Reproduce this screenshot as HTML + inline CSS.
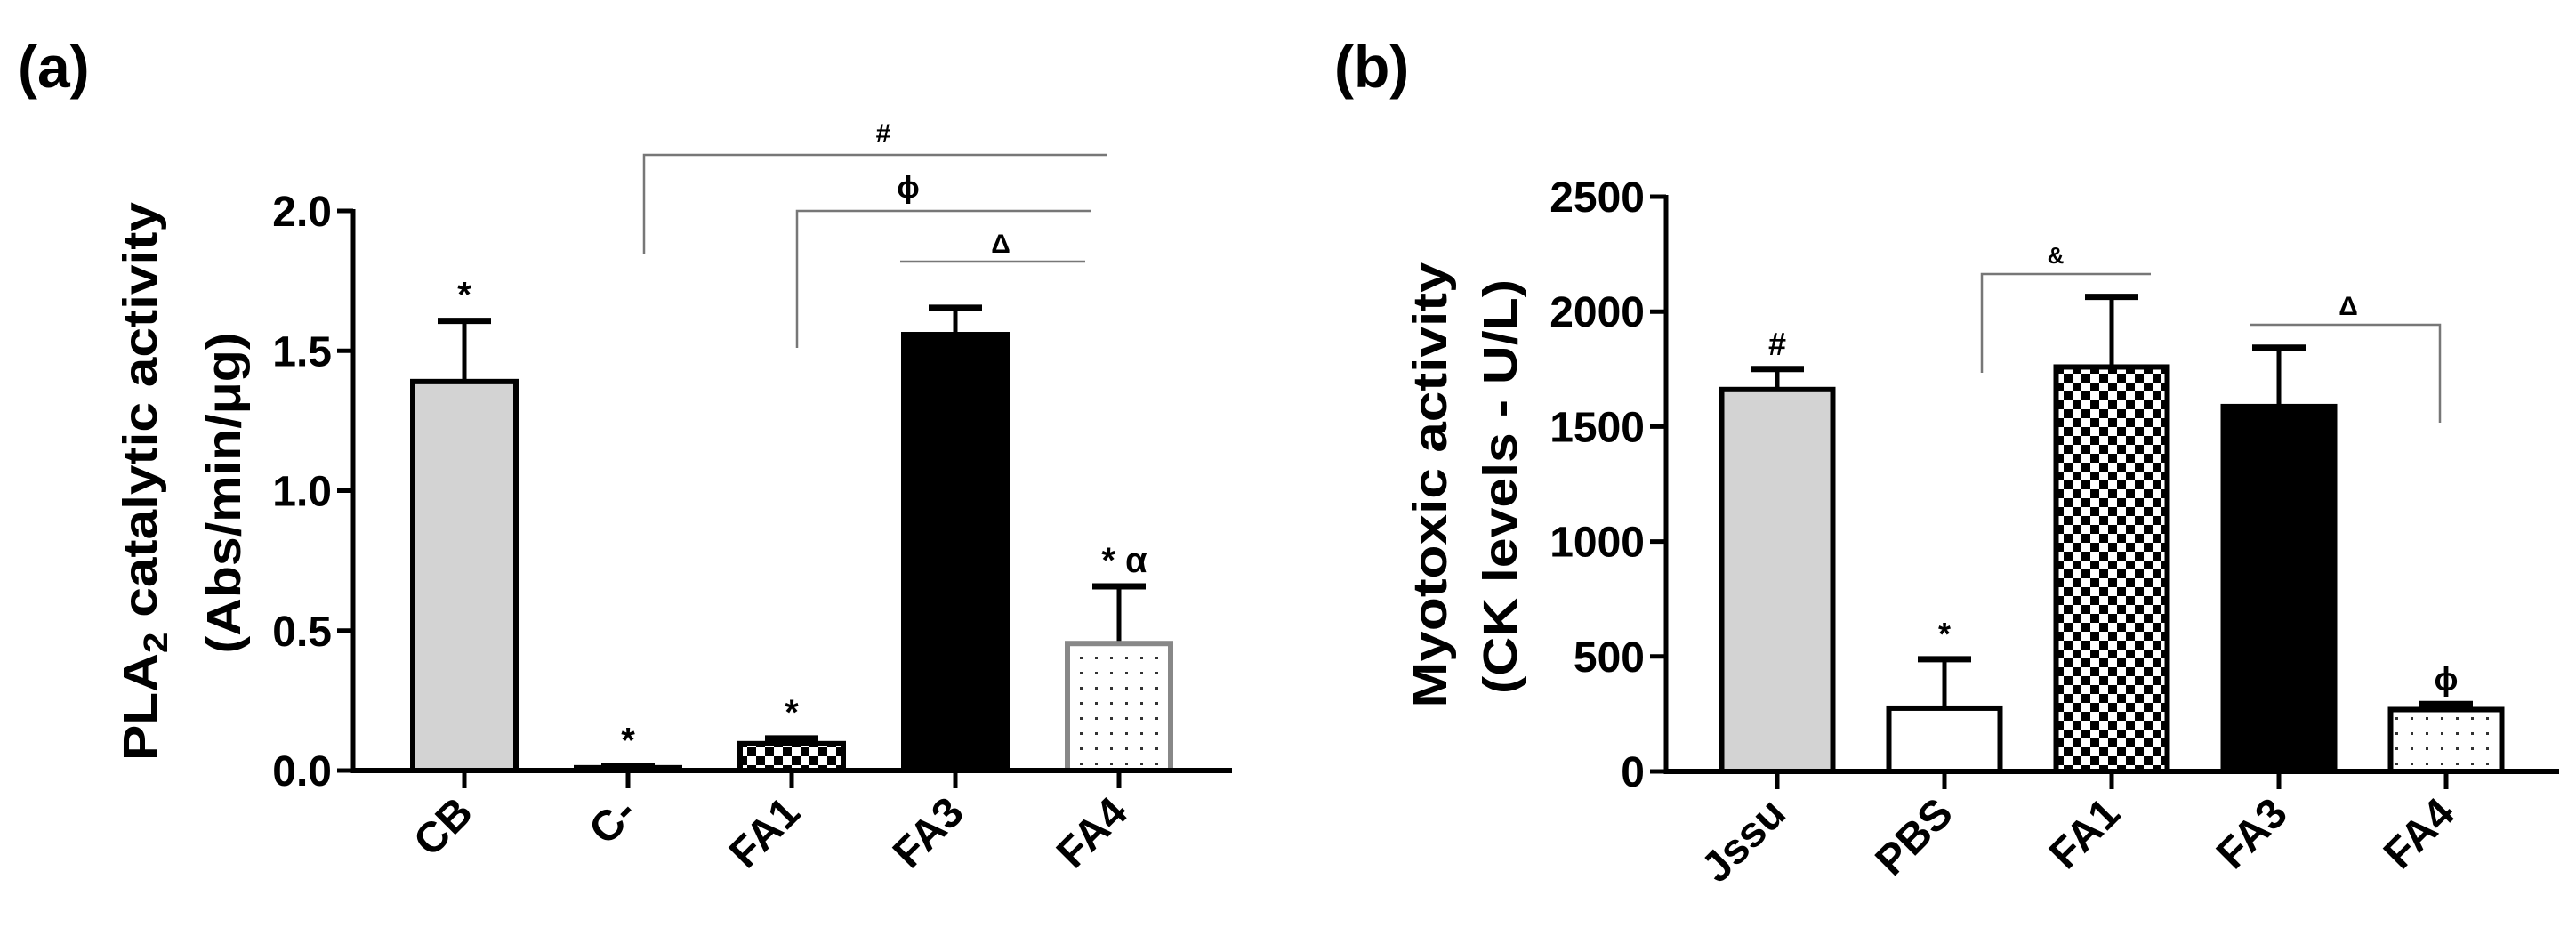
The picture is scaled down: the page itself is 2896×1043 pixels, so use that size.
<!DOCTYPE html>
<html><head><meta charset="utf-8"><style>
html,body{margin:0;padding:0;background:#fff;}
svg{display:block;font-family:"Liberation Sans",sans-serif;}
</style></head><body>
<svg id="fig" width="2896" height="1043" viewBox="0 0 2896 1043" xmlns="http://www.w3.org/2000/svg">
<defs>
<pattern id="checker" width="20" height="20" patternUnits="userSpaceOnUse">
<rect width="20" height="20" fill="#fff"/><rect width="10" height="10" fill="#000"/><rect x="10" y="10" width="10" height="10" fill="#000"/>
</pattern>
<pattern id="dots" width="17" height="17" patternUnits="userSpaceOnUse">
<rect width="17" height="17" fill="#fff"/><rect x="7" y="7" width="3" height="3" fill="#333"/>
</pattern>
</defs>
<text x="20" y="98" font-size="66" font-weight="bold">(a)</text>
<text x="1500" y="98" font-size="66" font-weight="bold">(b)</text>
<g id="pa"></g>
<g id="pb"></g>
</svg>
<script>
const catsA = ["CB","C-","FA1","FA3","FA4"];
const valsA = [1.39, 0.01, 0.096, 1.558, 0.454];
const errA = [1.607, 0.015, 0.115, 1.654, 0.658];
const ticksA = [0, 0.5, 1.0, 1.5, 2.0];
const tickLabelsA = ["0.0","0.5","1.0","1.5","2.0"];
const marksA = ["*","*","*","","* α"];
const catsB = ["Jssu","PBS","FA1","FA3","FA4"];
const valsB = [1661, 275, 1759, 1587, 269];
const errB = [1750, 488, 2064, 1843, 293];
const ticksB = [0, 500, 1000, 1500, 2000, 2500];
const tickLabelsB = ["0","500","1000","1500","2000","2500"];
const marksB = ["#","*","","","ϕ"];

const NS="http://www.w3.org/2000/svg";
function mk(parent,tag,attrs,txt){const e=document.createElementNS(NS,tag);for(const k in attrs)e.setAttribute(k,attrs[k]);if(txt!==undefined)e.textContent=txt;parent.appendChild(e);return e;}

function drawPanel(g,o){
  const y=v=>o.y0-(v/o.ymax)*(o.y0-o.y1);
  const x=i=>o.x0+i*o.step;
  // bars
  o.cats.forEach((c,i)=>{
    const top=y(o.vals[i]);
    const eb=mk(g,'line',{x1:x(i),x2:x(i),y1:top,y2:y(o.errs[i]),stroke:'#000','stroke-width':5});
    
    
    const cap=mk(g,'line',{x1:x(i)-30,x2:x(i)+30,y1:y(o.errs[i]),y2:y(o.errs[i]),stroke:'#000','stroke-width':7});
    
    
    const r=mk(g,'rect',{x:x(i)-o.bw/2,y:top,width:o.bw,height:Math.max(o.y0-top,1),fill:o.fills[i],stroke:o.strokes[i],'stroke-width':6});
    
    
    if(o.marks[i]){
      const t=mk(g,'text',{x:x(i)+(o.marks[i].length>1?6:0),y:y(o.errs[i])-16,'font-size':o.markSize,'font-weight':'bold','text-anchor':'middle'},o.marks[i]);
      
      
    }
    const tk=mk(g,'line',{x1:x(i),x2:x(i),y1:o.y0,y2:o.y0+20,stroke:'#000','stroke-width':5});
    
    
    const lx=x(i)+12, ly=o.y0+50;
    const lt=mk(g,'text',{x:lx,y:ly,'font-size':48,'font-weight':'bold','text-anchor':'end',transform:`rotate(-45 ${lx} ${ly})`},c);
    
    
  });
  // axes
  const ya=mk(g,'line',{x1:o.ax,x2:o.ax,y1:o.y1-2,y2:o.y0+3,stroke:'#000','stroke-width':5});
  
  
  const xa=mk(g,'line',{x1:o.ax,x2:o.xend,y1:o.y0,y2:o.y0,stroke:'#000','stroke-width':6});
  
  
  o.ticks.forEach((t,i)=>{
    const l=mk(g,'line',{x1:o.ax-18,x2:o.ax,y1:y(t),y2:y(t),stroke:'#000','stroke-width':5});
    
    
    const tx=mk(g,'text',{x:o.ax-24,y:y(t)+17,'font-size':48,'font-weight':'bold','text-anchor':'end'},o.tickLabels[i]);
    
    
  });
}

const ga=document.getElementById('pa');
drawPanel(ga,{cats:catsA,vals:valsA,errs:errA,ticks:ticksA,tickLabels:tickLabelsA,marks:marksA,ymax:2.0,y0:866,y1:237,x0:522,step:184,bw:116,ax:397,xend:1385,markSize:40,
  fills:['#d3d3d3','#fff','url(#checker)','#000','url(#dots)'],strokes:['#000','#000','#000','#000','#888']});
const gb=document.getElementById('pb');
drawPanel(gb,{cats:catsB,vals:valsB,errs:errB,ticks:ticksB,tickLabels:tickLabelsB,marks:marksB,ymax:2500,y0:867,y1:221,x0:1998,step:188,bw:125,ax:1873,xend:2877,markSize:36,
  fills:['#d3d3d3','#fff','url(#checker)','#000','url(#dots)'],strokes:['#000','#000','#000','#000','#000']});

// y titles
function ytitle(g,cx,cy,txt,len,name){
  const t=mk(g,'text',{x:cx,y:cy,'font-size':54,'font-weight':'bold','text-anchor':'middle',textLength:len,lengthAdjust:'spacingAndGlyphs',transform:`rotate(-90 ${cx} ${cy})`});
  
  
  return t;
}
const t1=ytitle(ga,176,541,'',628,'y-axis-title-line1');
t1.appendChild(document.createTextNode('PLA'));
const sub=mk(t1,'tspan',{'font-size':38,dy:12},'2');
mk(t1,'tspan',{dy:-12},' catalytic activity');
const t2=ytitle(ga,270,554,'(Abs/min/μg)',361,'y-axis-title-line2');t2.textContent='(Abs/min/μg)';
const t3=ytitle(gb,1626,545,'',501,'y-axis-title-line1');t3.textContent='Myotoxic activity';
const t4=ytitle(gb,1705,547,'',466,'y-axis-title-line2');t4.textContent='(CK levels - U/L)';

// brackets
function bracket(g,pts,lx,ly,label,size,name){
  const p=mk(g,'polyline',{points:pts,fill:'none',stroke:'#777','stroke-width':2.5});
  
  
  const t=mk(g,'text',{x:lx,y:ly,'font-size':size,'font-weight':'bold','text-anchor':'middle'},label);
  
  
}
bracket(ga,'724,286 724,174 1244,174',993,160,'#',30,'hash');
bracket(ga,'896,391 896,237 1227,237',1021,222,'ϕ',34,'phi');
bracket(ga,'1012,294 1220,294',1125,284,'Δ',30,'delta-a');
bracket(gb,'2228,419 2228,308 2418,308',2311,296,'&',26,'ampersand');
bracket(gb,'2529,365 2743,365 2743,475',2640,354,'Δ',30,'delta-b');
</script>
</body></html>
